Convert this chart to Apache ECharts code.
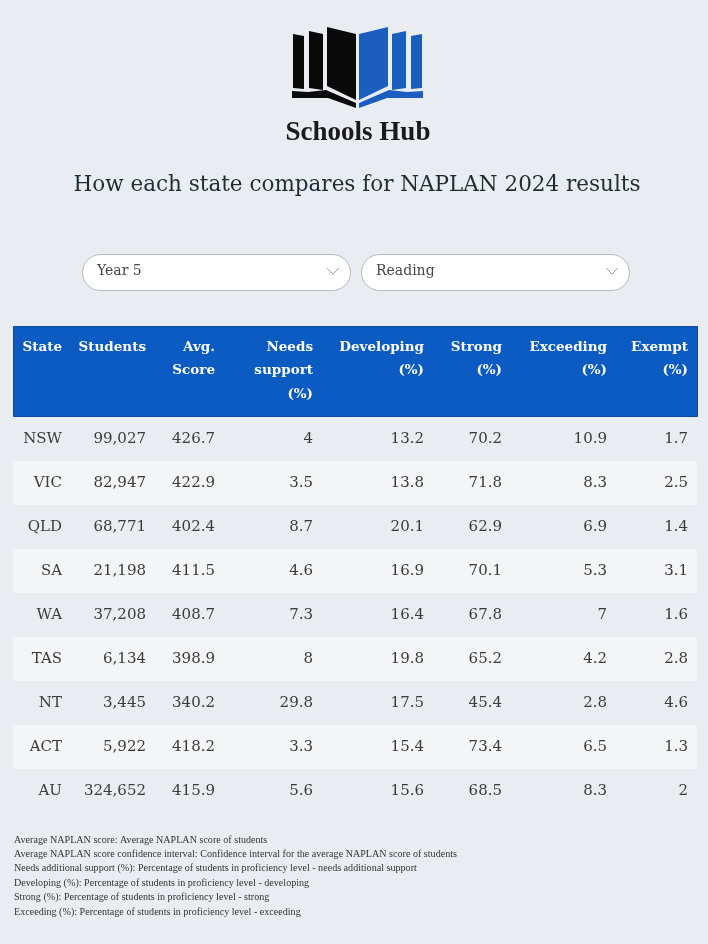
<!DOCTYPE html>
<html>
<head>
<meta charset="utf-8">
<script src="https://cdn.jsdelivr.net/npm/echarts@6/dist/echarts.min.js"></script>
<style>
html,body{margin:0;padding:0;background:#e9edf1;}
#chart{width:708px;height:944px;}
</style>
</head>
<body>
<div id="chart"></div>
<script>
// ---- data ----
const states = ['NSW','VIC','QLD','SA','WA','TAS','NT','ACT','AU'];
const students = [99027, 82947, 68771, 21198, 37208, 6134, 3445, 5922, 324652];
const avgScore = [426.7, 422.9, 402.4, 411.5, 408.7, 398.9, 340.2, 418.2, 415.9];
const needsSupport = [4, 3.5, 8.7, 4.6, 7.3, 8, 29.8, 3.3, 5.6];
const developing = [13.2, 13.8, 20.1, 16.9, 16.4, 19.8, 17.5, 15.4, 15.6];
const strong = [70.2, 71.8, 62.9, 70.1, 67.8, 65.2, 45.4, 73.4, 68.5];
const exceeding = [10.9, 8.3, 6.9, 5.3, 7, 4.2, 2.8, 6.5, 8.3];
const exempt = [1.7, 2.5, 1.4, 3.1, 1.6, 2.8, 4.6, 1.3, 2];
const columnHeaders = [
  ['State'], ['Students'], ['Avg.', 'Score'], ['Needs', 'support', '(%)'],
  ['Developing', '(%)'], ['Strong', '(%)'], ['Exceeding', '(%)'], ['Exempt', '(%)']
];
const footnotes = [
  'Average NAPLAN score: Average NAPLAN score of students',
  'Average NAPLAN score confidence interval: Confidence interval for the average NAPLAN score of students',
  'Needs additional support (%): Percentage of students in proficiency level - needs additional support',
  'Developing (%): Percentage of students in proficiency level - developing',
  'Strong (%): Percentage of students in proficiency level - strong',
  'Exceeding (%): Percentage of students in proficiency level - exceeding'
];
const brand = 'Schools Hub';
const chartTitle = 'How each state compares for NAPLAN 2024 results';
const yearOption = 'Year 5';
const domainOption = 'Reading';

// ---- layout (styles) ----
const colRight = [62, 146, 215, 313, 424, 502, 607, 688]; // absolute right edges of columns
const tableLeft = 13, tableRight = 698;
const headerTop = 326, headerBottom = 417;
const rowH = 44;
const serif = '"DejaVu Serif", serif';

const fmtInt = v => v.toLocaleString('en-US');
const rowCells = i => [
  states[i], fmtInt(students[i]), String(avgScore[i]), String(needsSupport[i]),
  String(developing[i]), String(strong[i]), String(exceeding[i]), String(exempt[i])
];

const chart = echarts.init(document.getElementById('chart'), null, {renderer: 'canvas'});

// logo polygons (left half, mirrored for the blue half)
const logoLeft = [
  [[293,34],[304,36],[304,89],[293,88]],
  [[309,31],[323,34],[323,90],[309,88]],
  [[327,27],[356,34],[356,100],[327,86]],
  [[292,91],[308,92],[326,90],[356,103],[356,108],[328,98],[308,98],[292,98]]
];
const mirror = poly => poly.map(p => [715 - p[0], p[1]]);

const graphics = [];
logoLeft.forEach(p => graphics.push({type:'polygon', shape:{points:p}, style:{fill:'#0a0a0a'}}));
logoLeft.forEach(p => graphics.push({type:'polygon', shape:{points:mirror(p)}, style:{fill:'#1a5ec0'}}));

graphics.push({type:'text', x:358, y:133, style:{text:brand, font:'bold 27px "Liberation Serif", serif', fill:'#1a1a1a', align:'center', verticalAlign:'middle'}});
graphics.push({type:'text', x:357, y:185, style:{text:chartTitle, font:'21.5px ' + serif, fill:'#1f2b37', align:'center', verticalAlign:'middle'}});

// dropdowns
[[82, yearOption], [361, domainOption]].forEach(([x, label]) => {
  graphics.push({type:'rect', shape:{x:x+0.5, y:254.5, width:268, height:36, r:18}, style:{fill:'#ffffff', stroke:'#b5b9bf', lineWidth:1}});
  graphics.push({type:'text', x:x+15, y:271, style:{text:label, font:'14px ' + serif, fill:'#444', verticalAlign:'middle'}});
  graphics.push({type:'polyline', shape:{points:[[x+245,268],[x+251,274],[x+257,268]]}, style:{stroke:'#9a9ea4', lineWidth:1, fill:null}});
});

// table header
graphics.push({type:'rect', shape:{x:tableLeft+0.5, y:headerTop+0.5, width:tableRight-tableLeft-1, height:headerBottom-headerTop-1}, style:{fill:'#0b5bc3', stroke:'#0a49a3', lineWidth:1}});
columnHeaders.forEach((lines, k) => {
  lines.forEach((ln, j) => {
    graphics.push({type:'text', x:colRight[k], y:347 + j*23.8, style:{text:ln, font:'bold 13.5px ' + serif, fill:'#ffffff', align:'right', verticalAlign:'middle'}});
  });
});

// footnotes
footnotes.forEach((t, j) => {
  graphics.push({type:'text', x:14, y:840 + j*14.4, style:{text:t, font:'10.1px "Liberation Serif", serif', fill:'#333', verticalAlign:'middle'}});
});

const option = {
  backgroundColor: '#e9edf1',
  animation: false,
  grid: {left: tableLeft, right: 708 - tableRight, top: headerBottom, height: rowH * states.length, containLabel: false},
  xAxis: {type:'value', min:0, max:1, show:false},
  yAxis: {type:'category', data: states, inverse: true, show:false},
  series: [{
    type: 'custom',
    coordinateSystem: 'cartesian2d',
    data: states.map((s, i) => [0, i]),
    encode: {x: 0, y: 1},
    renderItem: function (params, api) {
      const i = api.value(1);
      const c = api.coord([0, i]);
      const h = api.size([0, 1])[1];
      const cs = params.coordSys;
      const children = [{
        type: 'rect',
        shape: {x: cs.x, y: c[1] - h/2, width: cs.width - 1, height: h},
        style: {fill: i % 2 === 1 ? '#f3f5f7' : '#e9edf1'}
      }];
      rowCells(i).forEach((txt, k) => {
        children.push({
          type: 'text',
          x: colRight[k], y: c[1],
          style: {text: txt, font: '15px ' + serif, fill: '#3a3a3a', align: 'right', verticalAlign: 'middle'}
        });
      });
      return {type: 'group', children};
    }
  }],
  graphic: graphics
};
chart.setOption(option);
</script>
</body>
</html>
